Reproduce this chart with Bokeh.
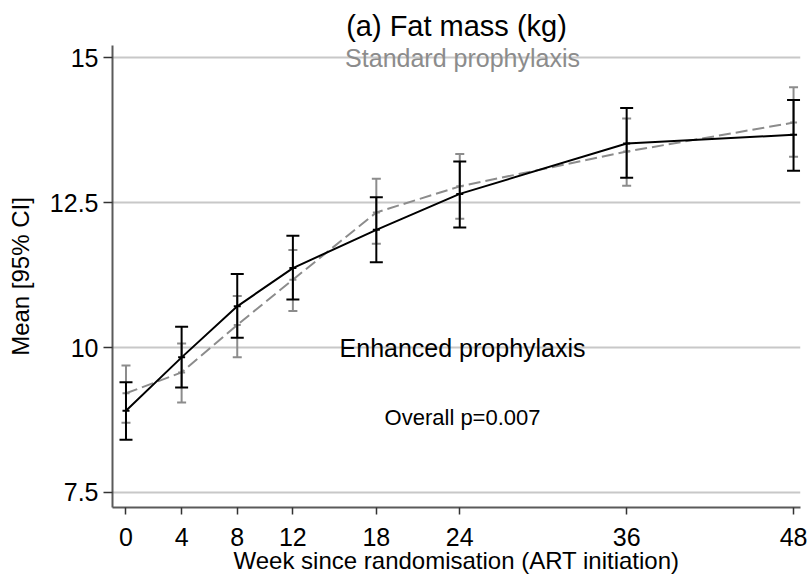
from bokeh.plotting import figure
from bokeh.models import Range1d, FixedTicker, ColumnDataSource, Label
from bokeh.embed import file_html
from bokeh.resources import INLINE

# ---- data ----
weeks = [0, 4, 8, 12, 18, 24, 36, 48]
x_tick_labels = ["0", "4", "8", "12", "18", "24", "36", "48"]
y_ticks = [7.5, 10, 12.5, 15]
y_tick_labels = ["7.5", "10", "12.5", "15"]

enh_mean = [8.91, 9.83, 10.71, 11.37, 12.03, 12.65, 13.52, 13.67]
enh_lo = [8.41, 9.31, 10.17, 10.83, 11.47, 12.07, 12.93, 13.05]
enh_hi = [9.40, 10.36, 11.27, 11.93, 12.59, 13.21, 14.13, 14.27]

std_mean = [9.21, 9.57, 10.39, 11.17, 12.33, 12.78, 13.38, 13.88]
std_lo = [8.70, 9.05, 9.83, 10.63, 11.79, 12.22, 12.79, 13.29]
std_hi = [9.69, 10.07, 10.89, 11.68, 12.91, 13.34, 13.95, 14.49]

FONT = "Liberation Sans"
GRAY = "#8c8c8c"

enh = ColumnDataSource(dict(x=weeks, m=enh_mean, lo=enh_lo, hi=enh_hi))
std = ColumnDataSource(dict(x=weeks, m=std_mean, lo=std_lo, hi=std_hi))

p = figure(width=809, height=577, output_backend="svg", toolbar_location=None,
           x_range=Range1d(-0.97, 48.5), y_range=Range1d(7.24, 15.21))
p.min_border_left = 112
p.min_border_right = 9
p.min_border_top = 45
p.min_border_bottom = 70
p.outline_line_color = None
p.background_fill_color = "white"
p.border_fill_color = "white"

p.title.text = "(a) Fat mass (kg)"
p.title.align = "center"
p.title.vertical_align = "top"
p.title.text_font = FONT
p.title.text_font_size = "29px"
p.title.text_font_style = "normal"
p.title.text_color = "black"
p.title.standoff = 4
p.title.offset = 0

p.xgrid.visible = False
p.ygrid.ticker = FixedTicker(ticks=y_ticks)
p.ygrid.grid_line_color = "#c8c8c8"
p.ygrid.grid_line_width = 2

p.xaxis.ticker = FixedTicker(ticks=weeks)
p.xaxis.major_label_overrides = {w: l for w, l in zip(weeks, x_tick_labels)}
p.yaxis.ticker = FixedTicker(ticks=y_ticks)
p.yaxis.major_label_overrides = {t: l for t, l in zip(y_ticks, y_tick_labels)}

p.xaxis.axis_label = "Week since randomisation (ART initiation)"
p.yaxis.axis_label = "Mean [95% CI]"
for ax in (p.xaxis[0], p.yaxis[0]):
    ax.axis_label_text_font = FONT
    ax.axis_label_text_font_size = "24px"
    ax.axis_label_text_font_style = "normal"
    ax.axis_label_text_color = "black"
    ax.major_label_text_font = FONT
    ax.major_label_text_font_size = "25px"
    ax.major_label_text_color = "black"
    ax.axis_line_color = "#5a5a5a"
    ax.axis_line_width = 2
    ax.major_tick_line_color = "#333333"
    ax.major_tick_line_width = 1.5
    ax.major_tick_in = 0
    ax.minor_tick_line_color = None
p.xaxis.major_tick_out = 7
p.xaxis.major_label_standoff = 13
p.xaxis.axis_label_standoff = -2
p.yaxis.major_tick_out = 9
p.yaxis.major_label_standoff = 5
p.yaxis.axis_label_standoff = 13

# Standard prophylaxis (gray, dashed)
p.line("x", "m", source=std, line_color=GRAY, line_width=2, line_dash="12 5")
p.segment(x0="x", y0="lo", x1="x", y1="hi", source=std, line_color=GRAY, line_width=2)
p.scatter("x", "lo", source=std, marker="dash", size=9, line_color=GRAY, line_width=2)
p.scatter("x", "hi", source=std, marker="dash", size=9, line_color=GRAY, line_width=2)
p.scatter("x", "m", source=std, marker="dash", size=7, line_color=GRAY, line_width=2)

# Enhanced prophylaxis (black, solid)
p.line("x", "m", source=enh, line_color="black", line_width=2)
p.segment(x0="x", y0="lo", x1="x", y1="hi", source=enh, line_color="black", line_width=2)
p.scatter("x", "lo", source=enh, marker="dash", size=13, line_color="black", line_width=2)
p.scatter("x", "hi", source=enh, marker="dash", size=13, line_color="black", line_width=2)
p.scatter("x", "m", source=enh, marker="dash", size=7, line_color="black", line_width=2)

p.add_layout(Label(x=24.2, y=15, text="Standard prophylaxis", text_align="center",
                   text_baseline="middle", text_font=FONT, text_font_size="25px",
                   text_color=GRAY))
p.add_layout(Label(x=24.2, y=10, text="Enhanced prophylaxis", text_align="center",
                   text_baseline="middle", text_font=FONT, text_font_size="25px",
                   text_color="black"))
p.add_layout(Label(x=24.2, y=8.79, text="Overall p=0.007", text_align="center",
                   text_baseline="middle", text_font=FONT, text_font_size="22px",
                   text_color="black"))

open("out.html", "w").write(file_html(p, INLINE))
